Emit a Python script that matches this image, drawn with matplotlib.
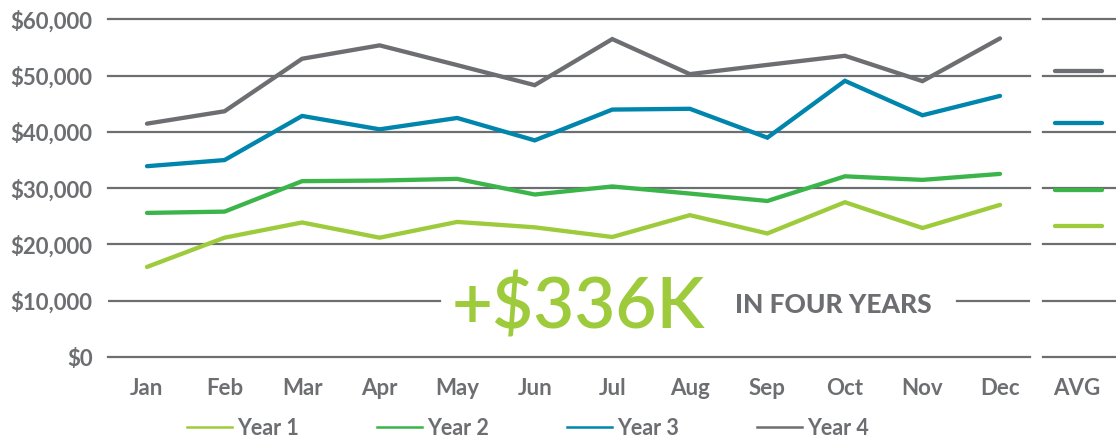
import matplotlib
matplotlib.use("Agg")
import matplotlib.pyplot as plt
from matplotlib.lines import Line2D

# ---------------- data ----------------
months = ["Jan", "Feb", "Mar", "Apr", "May", "Jun", "Jul", "Aug", "Sep", "Oct", "Nov", "Dec"]
year1 = [16000, 21200, 23900, 21200, 24000, 23040, 21320, 25200, 21950, 27500, 22920, 27030]
year2 = [25600, 25830, 31240, 31350, 31650, 28870, 30300, 29040, 27720, 32100, 31470, 32530]
year3 = [33900, 34990, 42830, 40450, 42470, 38490, 43960, 44100, 38970, 49070, 42950, 46390]
year4 = [41460, 43660, 52990, 55370, 51860, 48300, 56490, 50260, 51900, 53520, 49010, 56610]
avg_values = [23300, 29750, 41600, 50900]
series_names = ["Year 1", "Year 2", "Year 3", "Year 4"]
yticks = [0, 10000, 20000, 30000, 40000, 50000, 60000]
ytick_labels = ["$0", "$10,000", "$20,000", "$30,000", "$40,000", "$50,000", "$60,000"]
avg_label = "AVG"
headline = "+$336K"
subline = "IN FOUR YEARS"

# ---------------- style ----------------
colors = ["#9dcb3c", "#3bb54a", "#0085ad", "#6d6e71"]
grid_color = "#6d6e71"
text_color = "#6d6e71"
FONT = "Lato"
W, H = 1116, 440

fig = plt.figure(figsize=(W / 100, H / 100), dpi=100)
fig.patch.set_facecolor("white")

def fx(px):
    return px / W

def fy(py):
    return (H - py) / H

# main axes: x from 108 to 1030 px, y from 357 (0) to 19.3 (60k)
ax = fig.add_axes([fx(108), fy(357), fx(1030) - fx(108), fy(19.3) - fy(357)])
ax_avg = fig.add_axes([fx(1043), fy(357), fx(1116) - fx(1043), fy(19.3) - fy(357)])

xs = list(range(len(months)))
spacing = (1000 - 147) / 11.0
ax.set_xlim((108 - 147) / spacing, 11 + (1030 - 1000) / spacing)
ax.set_ylim(0, 60000)
ax_avg.set_xlim(0, 1)
ax_avg.set_ylim(0, 60000)

grid_lw = 1.6
for a in (ax, ax_avg):
    for s in a.spines.values():
        s.set_visible(False)
    a.set_facecolor("none")

# gridlines
for y in yticks:
    if y == 10000:
        ax.axhline(y, xmin=0, xmax=(440 - 108) / (1030 - 108), color=grid_color, lw=grid_lw, zorder=1)
        ax.axhline(y, xmin=(957 - 108) / (1030 - 108), xmax=1, color=grid_color, lw=grid_lw, zorder=1)
    else:
        ax.axhline(y, color=grid_color, lw=grid_lw, zorder=1, clip_on=False)
    ax_avg.axhline(y, color=grid_color, lw=grid_lw, zorder=1, clip_on=False)

# series
series = [year1, year2, year3, year4]
for vals, c in zip(series, colors):
    ax.plot(xs, vals, color=c, lw=3.1, solid_capstyle="round", solid_joinstyle="miter",
            zorder=3, clip_on=False)

# averages
ax_avg_x0 = (1055 - 1043) / (1116 - 1043)
ax_avg_x1 = (1102 - 1043) / (1116 - 1043)
for v, c in zip(avg_values, colors):
    ax_avg.plot([ax_avg_x0, ax_avg_x1], [v, v], color=c, lw=3.1, solid_capstyle="round",
                zorder=3, clip_on=False)

# ticks
tick_font = dict(family=FONT, weight="bold", size=16, color=text_color)
ax.set_yticks(yticks)
ax.set_yticklabels(ytick_labels, **tick_font)
ax.set_xticks(xs)
ax.set_xticklabels(months, **tick_font)
ax.tick_params(axis="both", length=0)
ax.tick_params(axis="y", pad=11)
ax.tick_params(axis="x", pad=15)

ax_avg.set_yticks([])
ax_avg.set_xticks([(1077 - 1043) / (1116 - 1043)])
ax_avg.set_xticklabels([avg_label], **tick_font)
ax_avg.tick_params(axis="x", length=0, pad=15)

# headline text
fig.text(fx(452), fy(328), headline, family=FONT, weight="semibold", size=51, color=colors[0],
         ha="left", va="baseline")
fig.text(fx(735), fy(313), subline, family=FONT, weight="black", size=19, color=text_color,
         ha="left", va="baseline")

# legend
handles = [Line2D([0], [0], color=c, lw=1.8) for c in colors]
leg = fig.legend(handles, series_names, loc="center", bbox_to_anchor=(fx(528), fy(428)),
                 ncol=4, frameon=False, handlelength=2.1, handletextpad=0.25,
                 columnspacing=3.6, prop=dict(family=FONT, weight="bold", size=15.5))
for t in leg.get_texts():
    t.set_color(text_color)

fig.savefig("out.png", dpi=100, facecolor="white")
